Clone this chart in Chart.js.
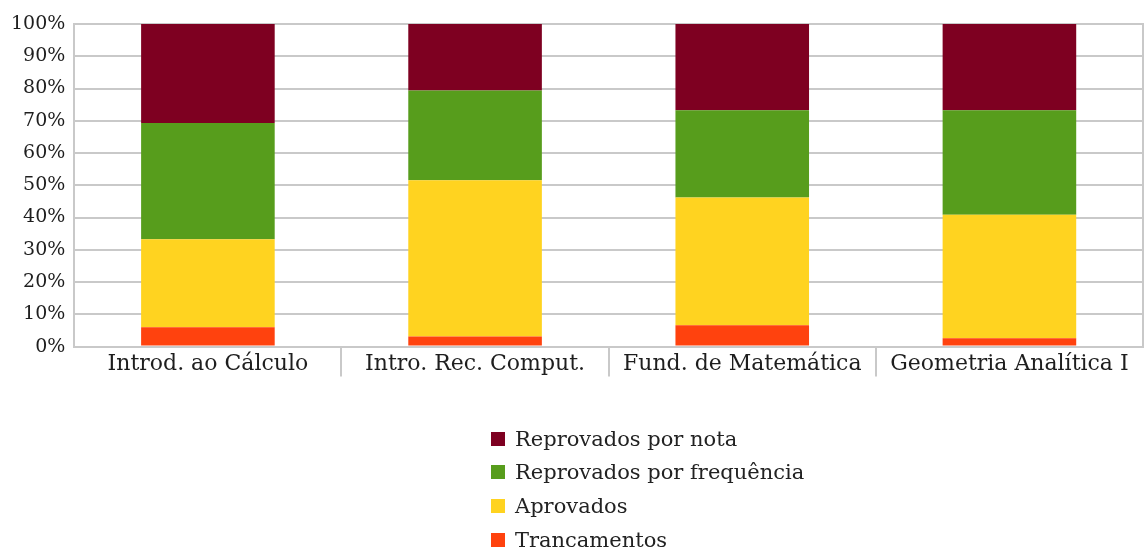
<!DOCTYPE html>
<html>
<head>
<meta charset="utf-8">
<script src="https://cdn.jsdelivr.net/npm/chart.js@4"></script>
<style>
  body { margin: 0; background: #fff; }
  #wrap { position: relative; width: 1145px; height: 549px; }
  #legenda { position: absolute; left: 491px; top: 422px; font-family: "DejaVu Serif", serif; font-size: 21px; color: #222; }
  #legenda div { display: flex; align-items: center; height: 33.6px; }
  #legenda span.caixa { display: inline-block; width: 14px; height: 14px; margin-right: 10px; }
</style>
</head>
<body>
<div id="wrap">
  <canvas id="grafico" width="1145" height="549"></canvas>
  <div id="legenda"></div>
</div>
<script>
// disciplinas
const disciplinas = ['Introd. ao Cálculo', 'Intro. Rec. Comput.', 'Fund. de Matemática', 'Geometria Analítica I'];

// percentuais por situação (de baixo para cima)
const trancamentos = [6.0, 3.1, 6.6, 2.6];
const aprovados = [27.3, 48.5, 39.6, 38.3];
const reprovFrequencia = [36.0, 27.8, 27.1, 32.4];
const reprovNota = [30.7, 20.6, 26.7, 26.7];

const yTicks = [0, 10, 20, 30, 40, 50, 60, 70, 80, 90, 100];

const corGrade = '#c9c9c9';
const fonte = '"DejaVu Serif", serif';

const series = [
    { label: 'Trancamentos', data: trancamentos, cor: '#ff420e' },
    { label: 'Aprovados', data: aprovados, cor: '#ffd320' },
    { label: 'Reprovados por frequência', data: reprovFrequencia, cor: '#579d1c' },
    { label: 'Reprovados por nota', data: reprovNota, cor: '#7e0021' }
];

// traços separadores entre as categorias, abaixo do eixo x
const separadores = {
    id: 'separadores',
    afterDraw(chart) {
        const x = chart.scales.x;
        const area = chart.chartArea;
        const c = chart.ctx;
        c.save();
        c.strokeStyle = corGrade;
        c.lineWidth = 2;
        for (let i = 0; i < disciplinas.length - 1; i++) {
            const px = Math.round((x.getPixelForValue(i) + x.getPixelForValue(i + 1)) / 2);
            c.beginPath();
            c.moveTo(px, area.bottom);
            c.lineTo(px, area.bottom + 30);
            c.stroke();
        }
        c.restore();
    }
};

const ctx = document.getElementById('grafico').getContext('2d');
const chart = new Chart(ctx, {
    type: 'bar',
    data: {
        labels: disciplinas,
        datasets: series.map(s => ({
            label: s.label,
            data: s.data,
            backgroundColor: s.cor,
            borderWidth: 0,
            categoryPercentage: 1.0,
            barPercentage: 0.5
        }))
    },
    options: {
        responsive: false,
        animation: false,
        layout: { padding: { left: 2, right: 2, top: 24, bottom: 168 } },
        plugins: {
            legend: { display: false },
            tooltip: { enabled: false }
        },
        scales: {
            x: {
                stacked: true,
                grid: { display: false, drawTicks: false },
                border: { display: true, color: corGrade, width: 2 },
                ticks: {
                    padding: 4,
                    color: '#1e1e1e',
                    font: { family: fonte, size: 22 },
                    maxRotation: 0,
                    autoSkip: false
                }
            },
            y: {
                stacked: true,
                min: 0,
                max: 100,
                afterBuildTicks: (axis) => { axis.ticks = yTicks.map(v => ({ value: v })); },
                grid: { color: corGrade, lineWidth: 2, drawTicks: false },
                border: { display: true, color: corGrade, width: 2 },
                ticks: {
                    padding: 9,
                    color: '#1e1e1e',
                    font: { family: fonte, size: 19 },
                    callback: (v) => v + '%'
                }
            },
            yDir: {
                position: 'right',
                min: 0,
                max: 100,
                grid: { display: false, drawTicks: false },
                border: { display: true, color: corGrade, width: 2 },
                ticks: { display: false }
            }
        }
    },
    plugins: [separadores]
});

// legenda vertical, na ordem inversa da pilha
const legenda = document.getElementById('legenda');
chart.data.datasets.slice().reverse().forEach(ds => {
    const linha = document.createElement('div');
    linha.innerHTML = `<span class="caixa" style="background:${ds.backgroundColor}"></span>${ds.label}`;
    legenda.appendChild(linha);
});
</script>
</body>
</html>
